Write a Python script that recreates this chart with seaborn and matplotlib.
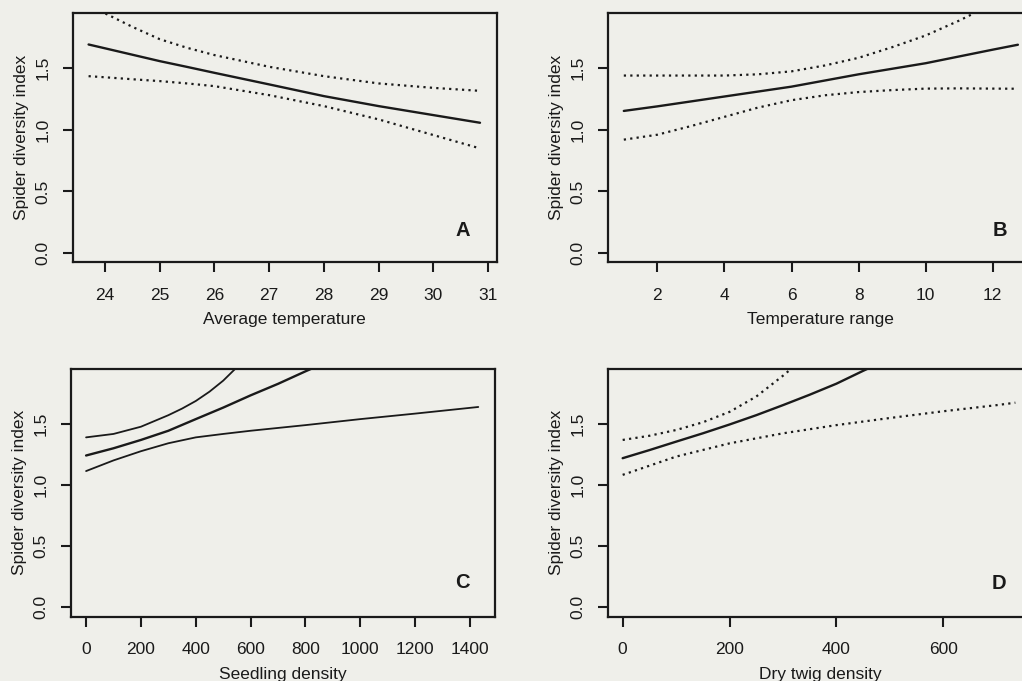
import matplotlib
matplotlib.use("Agg")
import matplotlib.pyplot as plt
import seaborn as sns

# ---------------- data ----------------
y_label = "Spider diversity index"
y_ticks = [0.0, 0.5, 1.0, 1.5]

# Panel A: Average temperature
a_x = [23.7, 24.0, 24.5, 25.0, 25.5, 26.0, 27.0, 28.0, 29.0, 30.0, 30.85]
a_fit = [1.692, 1.661, 1.609, 1.557, 1.51, 1.462, 1.368, 1.273, 1.192, 1.119, 1.057]
a_upper = [2.02, 1.945, 1.835, 1.735, 1.665, 1.606, 1.511, 1.435, 1.376, 1.34, 1.316]
a_lower = [1.435, 1.426, 1.41, 1.395, 1.376, 1.354, 1.281, 1.192, 1.084, 0.957, 0.849]
a_xticks = [24, 25, 26, 27, 28, 29, 30, 31]

# Panel B: Temperature range
b_x = [1, 2, 3, 4, 5, 6, 7, 8, 9, 10, 11, 12, 12.75]
b_fit = [1.153, 1.19, 1.23, 1.27, 1.31, 1.35, 1.40, 1.45, 1.495, 1.54, 1.595, 1.65, 1.69]
b_upper = [1.44, 1.44, 1.44, 1.44, 1.45, 1.474, 1.522, 1.584, 1.67, 1.765, 1.886, 2.02, 2.1]
b_lower = [0.92, 0.96, 1.03, 1.105, 1.18, 1.24, 1.28, 1.306, 1.322, 1.334, 1.336, 1.334, 1.333]
b_xticks = [2, 4, 6, 8, 10, 12]

# Panel C: Seedling density
c_x_upper = [0, 100, 200, 300, 350, 400, 450, 500, 550, 600]
c_upper = [1.387, 1.415, 1.474, 1.568, 1.622, 1.684, 1.76, 1.85, 1.96, 2.1]
c_x_fit = [0, 100, 200, 300, 400, 500, 600, 700, 800, 850]
c_fit = [1.239, 1.298, 1.366, 1.441, 1.536, 1.63, 1.73, 1.824, 1.926, 1.975]
c_x_lower = [0, 100, 200, 300, 400, 500, 600, 800, 1000, 1200, 1430]
c_lower = [1.112, 1.199, 1.274, 1.339, 1.387, 1.415, 1.441, 1.487, 1.536, 1.581, 1.635]
c_xticks = [0, 200, 400, 600, 800, 1000, 1200, 1400]

# Panel D: Dry twig density
d_x_fit = [0, 50, 100, 150, 200, 250, 300, 350, 400, 450, 470]
d_fit = [1.217, 1.283, 1.352, 1.42, 1.492, 1.568, 1.65, 1.735, 1.825, 1.93, 1.97]
d_x_upper = [0, 50, 100, 150, 200, 250, 300, 330]
d_upper = [1.366, 1.40, 1.447, 1.51, 1.595, 1.72, 1.89, 2.0]
d_x_lower = [0, 100, 200, 300, 400, 500, 600, 700, 735]
d_lower = [1.081, 1.23, 1.338, 1.42, 1.487, 1.545, 1.60, 1.65, 1.67]
d_xticks = [0, 200, 400, 600]

# ---------------- style ----------------
sns.set_theme(style="ticks")
bg = "#efefea"
ink = "#1a1a1a"
plt.rcParams["font.family"] = ["Liberation Sans", "DejaVu Sans"]
plt.rcParams.update({
    "figure.facecolor": bg,
    "axes.facecolor": bg,
    "axes.edgecolor": ink,
    "text.color": ink,
    "axes.labelcolor": ink,
    "xtick.color": ink,
    "ytick.color": ink,
})

fig = plt.figure(figsize=(10.22, 6.81), dpi=100)

W, H = 1022.0, 681.0
def box(left, right, top, bottom):
    return [left / W, (H - bottom) / H, (right - left) / W, (bottom - top) / H]

axA = fig.add_axes(box(72.7, 496.7, 13.3, 262.3))
axB = fig.add_axes(box(607.7, 1033.0, 13.3, 262.3))
axC = fig.add_axes(box(71.0, 495.0, 369.0, 616.5))
axD = fig.add_axes(box(607.7, 1033.0, 369.0, 616.5))

dotted = (0, (1.0, 1.9))
lw_fit = 1.7
lw_ci = 1.6

def draw(ax, x, y, ls, lw):
    sns.lineplot(x=x, y=y, ax=ax, color=ink, linestyle=ls, linewidth=lw,
                 errorbar=None, sort=True, legend=False)

# A
draw(axA, a_x, a_fit, "-", lw_fit)
draw(axA, a_x, a_upper, dotted, lw_ci)
draw(axA, a_x, a_lower, dotted, lw_ci)
# B
draw(axB, b_x, b_fit, "-", lw_fit)
draw(axB, b_x, b_upper, dotted, lw_ci)
draw(axB, b_x, b_lower, dotted, lw_ci)
# C (all solid)
draw(axC, c_x_upper, c_upper, "-", 1.3)
draw(axC, c_x_fit, c_fit, "-", lw_fit)
draw(axC, c_x_lower, c_lower, "-", 1.3)
# D
draw(axD, d_x_fit, d_fit, "-", lw_fit)
draw(axD, d_x_upper, d_upper, dotted, lw_ci)
draw(axD, d_x_lower, d_lower, dotted, lw_ci)

panels = [
    (axA, (23.41, 31.155), a_xticks, "Average temperature", "A", (0.921, 0.127)),
    (axB, (0.52, 13.2), b_xticks, "Temperature range", "B", (0.923, 0.127)),
    (axC, (-55, 1491), c_xticks, "Seedling density", "C", (0.924, 0.136)),
    (axD, (-28, 768), d_xticks, "Dry twig density", "D", (0.919, 0.132)),
]

fs = 12.5
for ax, xl, xt, xlab, letter, lpos in panels:
    ax.set_xlim(*xl)
    ax.set_ylim(-0.075, 1.945)
    ax.set_xticks(xt)
    ax.set_xticklabels([str(v) for v in xt])
    ax.set_yticks(y_ticks)
    ax.set_yticklabels([f"{v:.1f}" for v in y_ticks])
    for s in ax.spines.values():
        s.set_visible(True)
        s.set_linewidth(1.6)
        s.set_color(ink)
    ax.tick_params(axis="both", direction="out", length=7.2, width=1.5,
                   labelsize=fs, colors=ink)
    ax.tick_params(axis="x", pad=11)
    ax.tick_params(axis="y", pad=9, labelrotation=90)
    for t in ax.get_yticklabels():
        t.set_va("center")
    ax.set_xlabel(xlab, fontsize=fs, labelpad=7)
    ax.set_ylabel(y_label, fontsize=fs, labelpad=4.5)
    ax.text(lpos[0], lpos[1], letter, transform=ax.transAxes, ha="center",
            va="center", fontsize=14.5, fontweight="bold", color=ink)
    ax.grid(False)

fig.savefig("out.png", dpi=100, facecolor=bg)
